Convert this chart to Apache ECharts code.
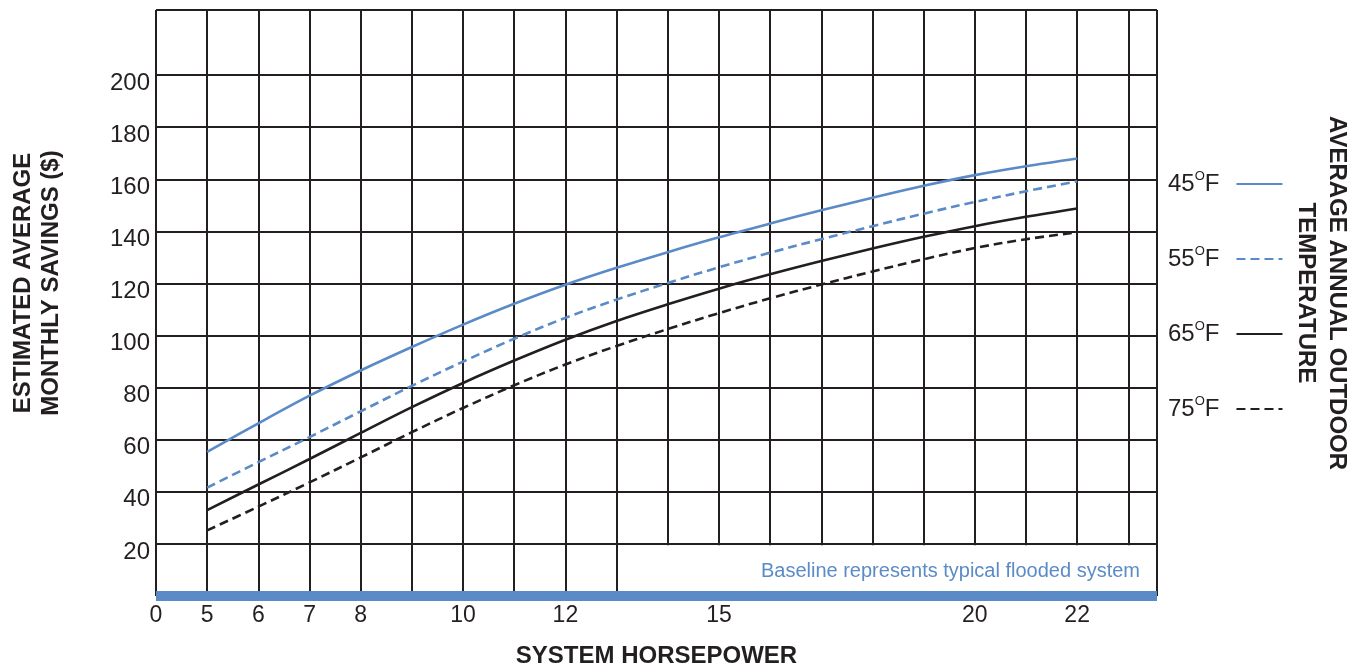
<!DOCTYPE html>
<html>
<head>
<meta charset="utf-8">
<script src="https://cdn.jsdelivr.net/npm/echarts@6/dist/echarts.min.js"></script>
<style>
  html, body { margin: 0; padding: 0; background: #fff; }
  #chart { width: 1351px; height: 667px; }
</style>
</head>
<body>
<div id="chart"></div>
<script>
// Savings vs. system horsepower, one curve per average outdoor temperature.
const FONT = '"Liberation Sans", Arial, Helvetica, sans-serif';
const INK = '#231f20';
const BLUE = '#5b8bc7';

// x grid is drawn one column per horsepower step, with a jump from 0 to 5
const hpTicks = [0, 5, 6, 7, 8, 10, 12, 15, 20, 22];
const hp = [5, 6, 7, 8, 9, 10, 11, 12, 13, 14, 15, 16, 17, 18, 19, 20, 21, 22];

const temps = ['45', '55', '65', '75'];
const f45 = [55.3, 66.3, 76.9, 86.6, 95.6, 104.2, 112.2, 119.5, 126, 132, 137.7, 143, 148.1, 152.9, 157.5, 161.6, 165, 168];
const f55 = [41.6, 51.4, 61, 70.9, 80.7, 90, 98.8, 106.8, 113.8, 120.2, 126.2, 131.8, 137, 142, 146.8, 151.3, 155.4, 159.2];
const f65 = [33, 42.8, 52.6, 62.6, 72.5, 81.8, 90.4, 98.4, 105.6, 112, 118, 123.5, 128.6, 133.4, 137.9, 142, 145.6, 148.8];
const f75 = [25.2, 34.3, 43.6, 53.2, 62.9, 72.2, 80.9, 88.9, 96, 102.5, 108.6, 114.3, 119.6, 124.6, 129.3, 133.6, 137, 139.6];

const yTicks = [20, 40, 60, 80, 100, 120, 140, 160, 180, 200];

const colOf = (h) => (h === 0 ? 0 : h - 4);
const hpOf = (c) => (c === 0 ? 0 : c + 4);

function curve(t, vals, color, dashed) {
  return {
    name: t + '°F', type: 'line', smooth: 0.35, symbol: 'none',
    data: hp.map((h, i) => [colOf(h), vals[i]]),
    lineStyle: { color, width: 2.6, type: dashed ? [9, 5] : 'solid' },
    itemStyle: { color },
    z: 5,
  };
}

const series = [
  curve(temps[0], f45, BLUE, false),
  curve(temps[1], f55, BLUE, true),
  curve(temps[2], f65, INK, false),
  curve(temps[3], f75, INK, true),
];
// blank out the bottom row to the right of the 13 hp line (baseline note sits there)
series[0].markArea = {
  silent: true,
  itemStyle: { color: '#fff', opacity: 1 },
  data: [[{ coord: [colOf(13) + 0.03, 1.95] }, { coord: [19.53, 19.5] }]],
};

// y split lines: 0..220 by 20 plus the top edge; the 220 one is hidden
const yLineColors = [];
for (let v = 0; v <= 220; v += 20) yLineColors.push(v > 200 ? 'rgba(0,0,0,0)' : INK);
yLineColors.push(INK);

const option = {
  backgroundColor: '#fff',
  animation: false,
  textStyle: { fontFamily: FONT, color: INK },
  grid: { left: 156, right: 194, top: 10, bottom: 71, containLabel: false, outerBoundsMode: 'none' },
  xAxis: {
    type: 'value', min: 0, max: 19.56, interval: 1,
    name: 'SYSTEM HORSEPOWER', nameLocation: 'middle', nameGap: 48,
    nameTextStyle: { fontFamily: FONT, fontSize: 24, fontWeight: 'bold', color: INK },
    axisLine: { show: true, lineStyle: { color: BLUE, width: 10, cap: 'butt' } },
    axisTick: { show: false },
    axisLabel: {
      fontFamily: FONT, fontSize: 23, color: INK, margin: 8,
      showMinLabel: true, showMaxLabel: true,
      formatter: (v) => (Number.isInteger(v) && hpTicks.includes(hpOf(v)) ? String(hpOf(v)) : ''),
    },
    splitLine: { show: true, lineStyle: { color: INK, width: 2 } },
  },
  yAxis: {
    type: 'value', min: 0, max: 225, interval: 20,
    axisLine: { show: false },
    axisTick: { show: false },
    axisLabel: {
      fontFamily: FONT, fontSize: 24, color: INK, margin: 6,
      verticalAlign: 'top', lineHeight: 16,
      formatter: (v) => (yTicks.includes(v) ? String(v) : ''),
    },
    splitLine: { show: true, lineStyle: { color: yLineColors, width: 2 } },
  },
  legend: {
    orient: 'vertical', left: 1168, top: 170, align: 'right', padding: 0,
    itemWidth: 46, itemHeight: 14, itemGap: 49,
    itemStyle: { opacity: 0 },
    data: series.map((s) => s.name),
    formatter: (n) => '{n|' + n.slice(0, 2) + '}{s|O}{n|F}{g|}',
    textStyle: {
      color: INK, fontFamily: FONT,
      rich: {
        n: { fontSize: 24, lineHeight: 28, fontFamily: FONT, color: INK },
        s: { fontSize: 13, lineHeight: 16, verticalAlign: 'top', fontFamily: FONT, color: INK },
        g: { width: 12 },
      },
    },
  },
  graphic: [
    {
      type: 'text', x: 37, y: 283, rotation: Math.PI / 2,
      style: {
        text: 'ESTIMATED AVERAGE\nMONTHLY SAVINGS ($)', fontFamily: FONT, fontSize: 24,
        fontWeight: 'bold', fill: INK, align: 'center', verticalAlign: 'middle', lineHeight: 28,
      },
    },
    {
      type: 'text', x: 1321, y: 293, rotation: -Math.PI / 2,
      style: {
        text: 'AVERAGE ANNUAL OUTDOOR\nTEMPERATURE', fontFamily: FONT, fontSize: 24,
        fontWeight: 'bold', fill: INK, align: 'center', verticalAlign: 'middle', lineHeight: 31,
      },
    },
    {
      type: 'text', x: 1140, y: 571, z: 10,
      style: {
        text: 'Baseline represents typical flooded system', fontFamily: FONT, fontSize: 20,
        fill: BLUE, align: 'right', verticalAlign: 'middle',
      },
    },
  ],
  series,
};

const chart = echarts.init(document.getElementById('chart'), null, { renderer: 'canvas' });
chart.setOption(option);
</script>
</body>
</html>
